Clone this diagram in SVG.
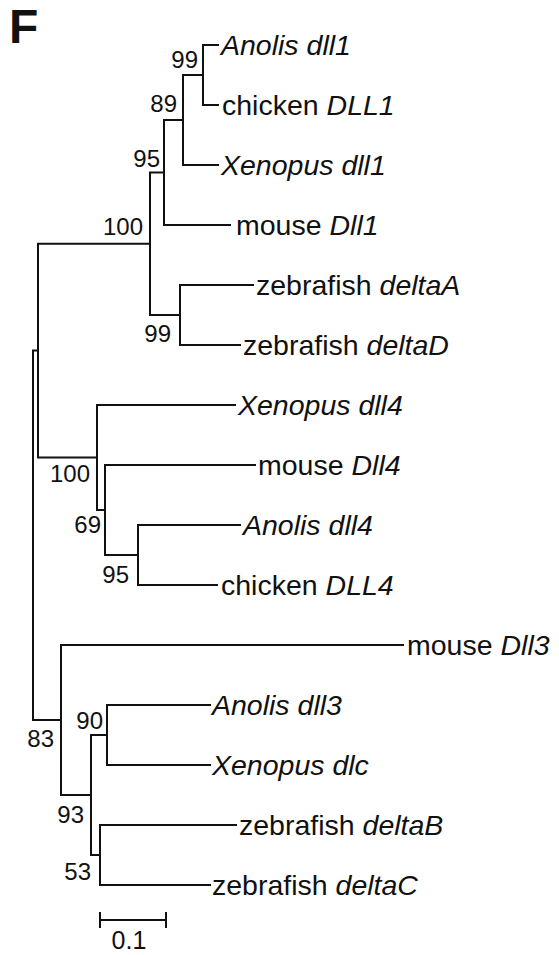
<svg xmlns="http://www.w3.org/2000/svg" width="559" height="955" viewBox="0 0 559 955">
  <style>
    .br { fill: none; stroke: #111; stroke-width: 2; stroke-linecap: square; }
    .lbl { font-family: "Liberation Sans", Arial, sans-serif; font-size: 28.5px; fill: #111; }
    .it { font-style: italic; }
    .bs { font-family: "Liberation Sans", Arial, sans-serif; font-size: 24px; fill: #111; text-anchor: end; }
    .panel { font-family: "Liberation Sans", Arial, sans-serif; font-size: 48px; font-weight: bold; fill: #111; }
  </style>
  <rect width="559" height="955" fill="#fff"/>

  <text class="panel" x="9" y="43">F</text>

  <!-- branches of the tree -->
  <g id="connectors">
    <!-- root -->
    <path class="br" d="M33 350.6 V720 M33 350.6 H38 M33 720 H61"/>
    <!-- Dll1 + Dll4 group -->
    <path class="br" d="M38 243.75 V457.5 M38 243.75 H150 M38 457.5 H97"/>
    <path class="br" d="M150 172.5 V315 M150 172.5 H164 M150 315 H180"/>
    <path class="br" d="M164 120 V225 M164 120 H183 M164 225 H230"/>
    <path class="br" d="M183 75 V165 M183 75 H203 M183 165 H218"/>
    <path class="br" d="M203 45 V105 M203 45 H218 M203 105 H218"/>
    <path class="br" d="M180 285 V345 M180 285 H253 M180 345 H240"/>
    <path class="br" d="M97 405 V510 M97 405 H235 M97 510 H105"/>
    <path class="br" d="M105 465 V555 M105 465 H255 M105 555 H138"/>
    <path class="br" d="M138 525 V585 M138 525 H240 M138 585 H217"/>
    <!-- Dll3 group -->
    <path class="br" d="M61 645 V795 M61 645 H403 M61 795 H91"/>
    <path class="br" d="M91 735 V855 M91 735 H107 M91 855 H100"/>
    <path class="br" d="M107 705 V765 M107 705 H210 M107 765 H210"/>
    <path class="br" d="M100 825 V885 M100 825 H236 M100 885 H210"/>
  </g>

  <!-- internal nodes with bootstrap values -->
  <g id="n-anolis-chicken-dll1"><text class="bs" x="198" y="68">99</text></g>
  <g id="n-amniote-xenopus-dll1"><text class="bs" x="177" y="112">89</text></g>
  <g id="n-tetrapod-dll1"><text class="bs" x="160" y="167">95</text></g>
  <g id="n-dll1-clade"><text class="bs" x="143" y="235">100</text></g>
  <g id="n-deltaA-deltaD"><text class="bs" x="171" y="342">99</text></g>
  <g id="n-dll4-clade"><text class="bs" x="90" y="482">100</text></g>
  <g id="n-amniote-dll4"><text class="bs" x="101" y="533">69</text></g>
  <g id="n-anolis-chicken-dll4"><text class="bs" x="129" y="583">95</text></g>
  <g id="n-dll3-clade"><text class="bs" x="54" y="747">83</text></g>
  <g id="n-dll3-dlc"><text class="bs" x="103" y="729">90</text></g>
  <g id="n-dll3-dlc-deltaBC"><text class="bs" x="84" y="823">93</text></g>
  <g id="n-deltaB-deltaC"><text class="bs" x="91" y="880">53</text></g>

  <!-- leaves -->
  <g id="leaf-anolis-dll1"><text class="lbl it" x="221" y="55">Anolis dll1</text></g>
  <g id="leaf-chicken-DLL1"><text class="lbl" x="222" y="115">chicken <tspan class="it">DLL1</tspan></text></g>
  <g id="leaf-xenopus-dll1"><text class="lbl it" x="221" y="175">Xenopus dll1</text></g>
  <g id="leaf-mouse-Dll1"><text class="lbl" x="236" y="235">mouse <tspan class="it">Dll1</tspan></text></g>
  <g id="leaf-zebrafish-deltaA"><text class="lbl" x="256" y="295">zebrafish <tspan class="it">deltaA</tspan></text></g>
  <g id="leaf-zebrafish-deltaD"><text class="lbl" x="243" y="355">zebrafish <tspan class="it">deltaD</tspan></text></g>
  <g id="leaf-xenopus-dll4"><text class="lbl it" x="238" y="415">Xenopus dll4</text></g>
  <g id="leaf-mouse-Dll4"><text class="lbl" x="258" y="475">mouse <tspan class="it">Dll4</tspan></text></g>
  <g id="leaf-anolis-dll4"><text class="lbl it" x="243" y="535">Anolis dll4</text></g>
  <g id="leaf-chicken-DLL4"><text class="lbl" x="221" y="595">chicken <tspan class="it">DLL4</tspan></text></g>
  <g id="leaf-mouse-Dll3"><text class="lbl" x="407" y="655">mouse <tspan class="it">Dll3</tspan></text></g>
  <g id="leaf-anolis-dll3"><text class="lbl it" x="212" y="715">Anolis dll3</text></g>
  <g id="leaf-xenopus-dlc"><text class="lbl it" x="212" y="775">Xenopus dlc</text></g>
  <g id="leaf-zebrafish-deltaB"><text class="lbl" x="239" y="835">zebrafish <tspan class="it">deltaB</tspan></text></g>
  <g id="leaf-zebrafish-deltaC"><text class="lbl" x="212" y="895">zebrafish <tspan class="it">deltaC</tspan></text></g>

  <!-- scale bar -->
  <g id="scale-bar">
    <path class="br" d="M100 920 H166 M100 913 V927 M166 913 V927"/>
    <text class="bs" x="129" y="949" style="text-anchor: middle; font-size: 25px;">0.1</text>
  </g>
</svg>
